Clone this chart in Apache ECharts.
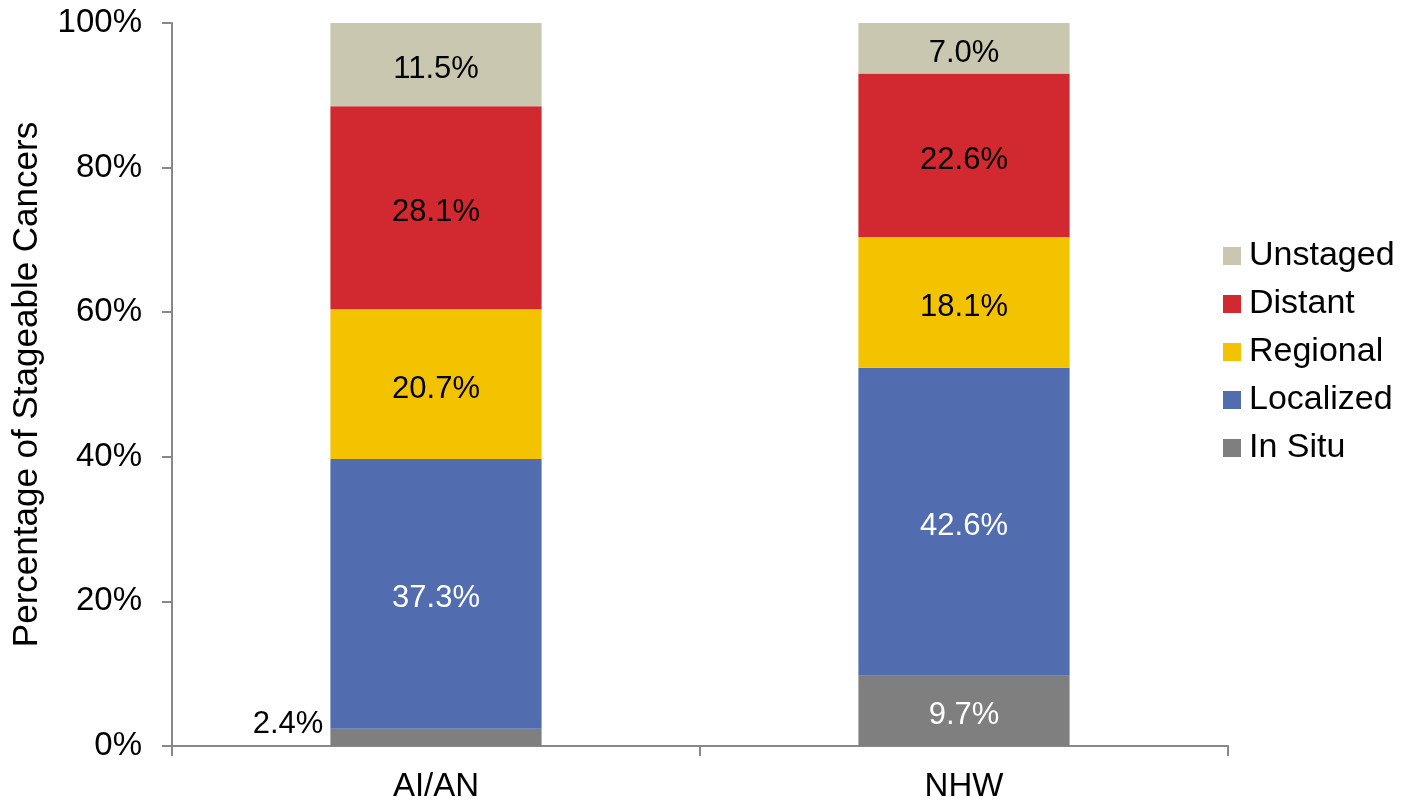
<!DOCTYPE html>
<html>
<head>
<meta charset="utf-8">
<script src="https://cdn.jsdelivr.net/npm/echarts@6/dist/echarts.min.js"></script>
<style>
  html, body { margin: 0; padding: 0; background: #fff; }
  #chartBox { width: 1411px; height: 804px; }
</style>
</head>
<body>
<div id="chartBox"></div>
<script>
// 数据
const categories = ['AI/AN', 'NHW']
const inSitu = [2.4, 9.7]
const localized = [37.3, 42.6]
const regional = [20.7, 18.1]
const distant = [28.1, 22.6]
const unstaged = [11.5, 7.0]
const yTicks = [0, 20, 40, 60, 80, 100]

const font = 'Liberation Sans, Arial, sans-serif'

function makeSeries (name, values, color, labelColor) {
  return {
    name: name,
    type: 'bar',
    stack: 'total',
    barWidth: '40%',
    itemStyle: { color: color },
    label: {
      show: true,
      position: 'inside',
      offset: [0, 5],
      color: labelColor,
      fontFamily: font,
      fontSize: 31,
      formatter: p => p.value.toFixed(1) + '%'
    },
    data: values.map(v => v)
  }
}

const series = [
  makeSeries('In Situ', inSitu, '#7f7f7f', '#fff'),
  makeSeries('Localized', localized, '#516db0', '#fff'),
  makeSeries('Regional', regional, '#f3c300', '#000'),
  makeSeries('Distant', distant, '#d2282f', '#000'),
  makeSeries('Unstaged', unstaged, '#c9c7b0', '#000')
]
// 2.4% 太小，标签放到柱子左边
series[0].data[0] = {
  value: inSitu[0],
  label: { position: 'left', color: '#000', offset: [0, -13], distance: 7 }
}

const option = {
  animation: false,
  grid: { left: 172, right: 183, top: 23, bottom: 58, containLabel: false, outerBoundsMode: 'none' },
  legend: {
    orient: 'vertical',
    left: 1223,
    top: 239,
    padding: 0,
    itemWidth: 18,
    itemHeight: 18,
    itemGap: 14,
    icon: 'rect',
    data: ['Unstaged', 'Distant', 'Regional', 'Localized', 'In Situ'],
    textStyle: { fontFamily: font, fontSize: 34, lineHeight: 34, color: '#000', padding: [0, 0, 0, 3] }
  },
  xAxis: {
    type: 'category',
    data: categories,
    axisLine: { lineStyle: { color: '#888', width: 2 } },
    axisTick: { show: true, length: 10, lineStyle: { color: '#888', width: 2 } },
    axisLabel: { fontFamily: font, fontSize: 33, color: '#000', margin: 24 }
  },
  yAxis: {
    type: 'value',
    min: yTicks[0],
    max: yTicks[yTicks.length - 1],
    interval: 20,
    name: 'Percentage of Stageable Cancers',
    nameLocation: 'middle',
    nameGap: 127,
    nameTextStyle: { fontFamily: font, fontSize: 35, color: '#000' },
    axisLine: { show: true, lineStyle: { color: '#888', width: 2 } },
    axisTick: { show: true, length: 10, lineStyle: { color: '#888', width: 2 } },
    splitLine: { show: false },
    axisLabel: {
      fontFamily: font, fontSize: 33, color: '#000', margin: 30,
      formatter: v => v + '%'
    }
  },
  series: series
}

const chart = echarts.init(document.getElementById('chartBox'))
chart.setOption(option)
</script>
</body>
</html>
